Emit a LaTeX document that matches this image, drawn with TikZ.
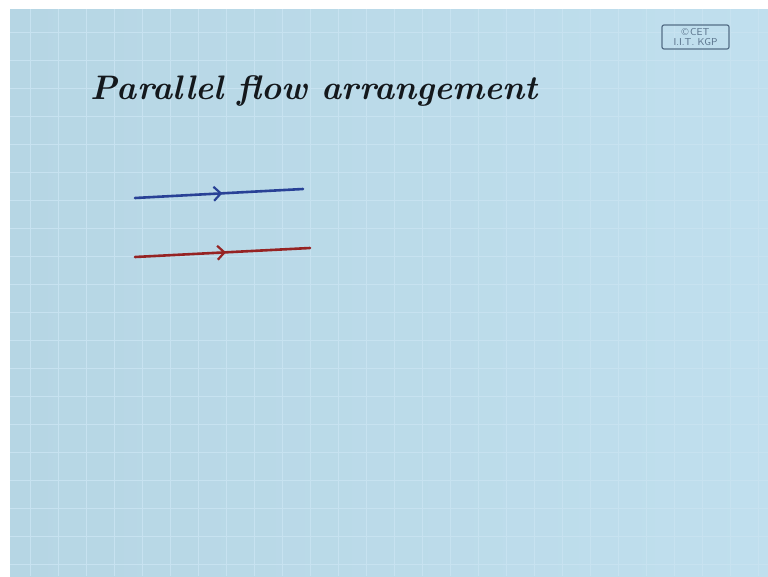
\documentclass[tikz,border=0pt]{standalone}
\usepackage{fontspec}
\usetikzlibrary{arrows.meta,decorations.markings}
\definecolor{sheet}{RGB}{192,223,238}
\definecolor{sheetdark}{RGB}{182,214,228}
\definecolor{gridc}{RGB}{199,226,240}
\definecolor{inkblack}{RGB}{20,24,28}
\definecolor{inkblue}{RGB}{40,65,150}
\definecolor{inkred}{RGB}{150,35,35}
\definecolor{logoc}{RGB}{85,110,135}
\tikzset{
  flowline/.style={line width=2.6pt, line cap=round,
    decoration={markings, mark=at position 0.52 with {\arrow{Straight Barb[length=7pt,width=14pt,line width=2.2pt]}}},
    postaction=decorate},
  title/.style={anchor=base west, text=inkblack, font=\fontsize{34}{40}\selectfont\itshape\bfseries, inner sep=0pt},
  logo/.style={draw=logoc, line width=1.2pt, rounded corners=2pt, text=logoc, font=\sffamily\fontsize{10}{10}\selectfont, align=center, minimum width=67pt, minimum height=24pt, inner sep=1pt}
}
\begin{document}
\begin{tikzpicture}[x=1pt,y=-1pt]
\useasboundingbox (0,0) rectangle (768,576);
\fill[white] (0,0) rectangle (768,576);
\shade[left color=sheetdark, right color=sheet] (10,9) rectangle (768,576);
\foreach \gx in {30,58,...,768} \draw[gridc, line width=0.6pt] (\gx,9) -- (\gx,576);
\foreach \gy in {32,60,...,576} \draw[gridc, line width=0.6pt] (10,\gy) -- (768,\gy);
\node[title] (t) at (90,99) {Parallel flow arrangement};
\node[logo] (lg) at (695.5,37) {\textcopyright\,CET\\I.I.T. KGP};
\coordinate (b1) at (135,198);
\coordinate (b2) at (303,189);
\coordinate (r1) at (135,257);
\coordinate (r2) at (310,248);
\draw[flowline, inkblue] (b1) -- (b2);
\draw[flowline, inkred] (r1) -- (r2);
\end{tikzpicture}
\end{document}
